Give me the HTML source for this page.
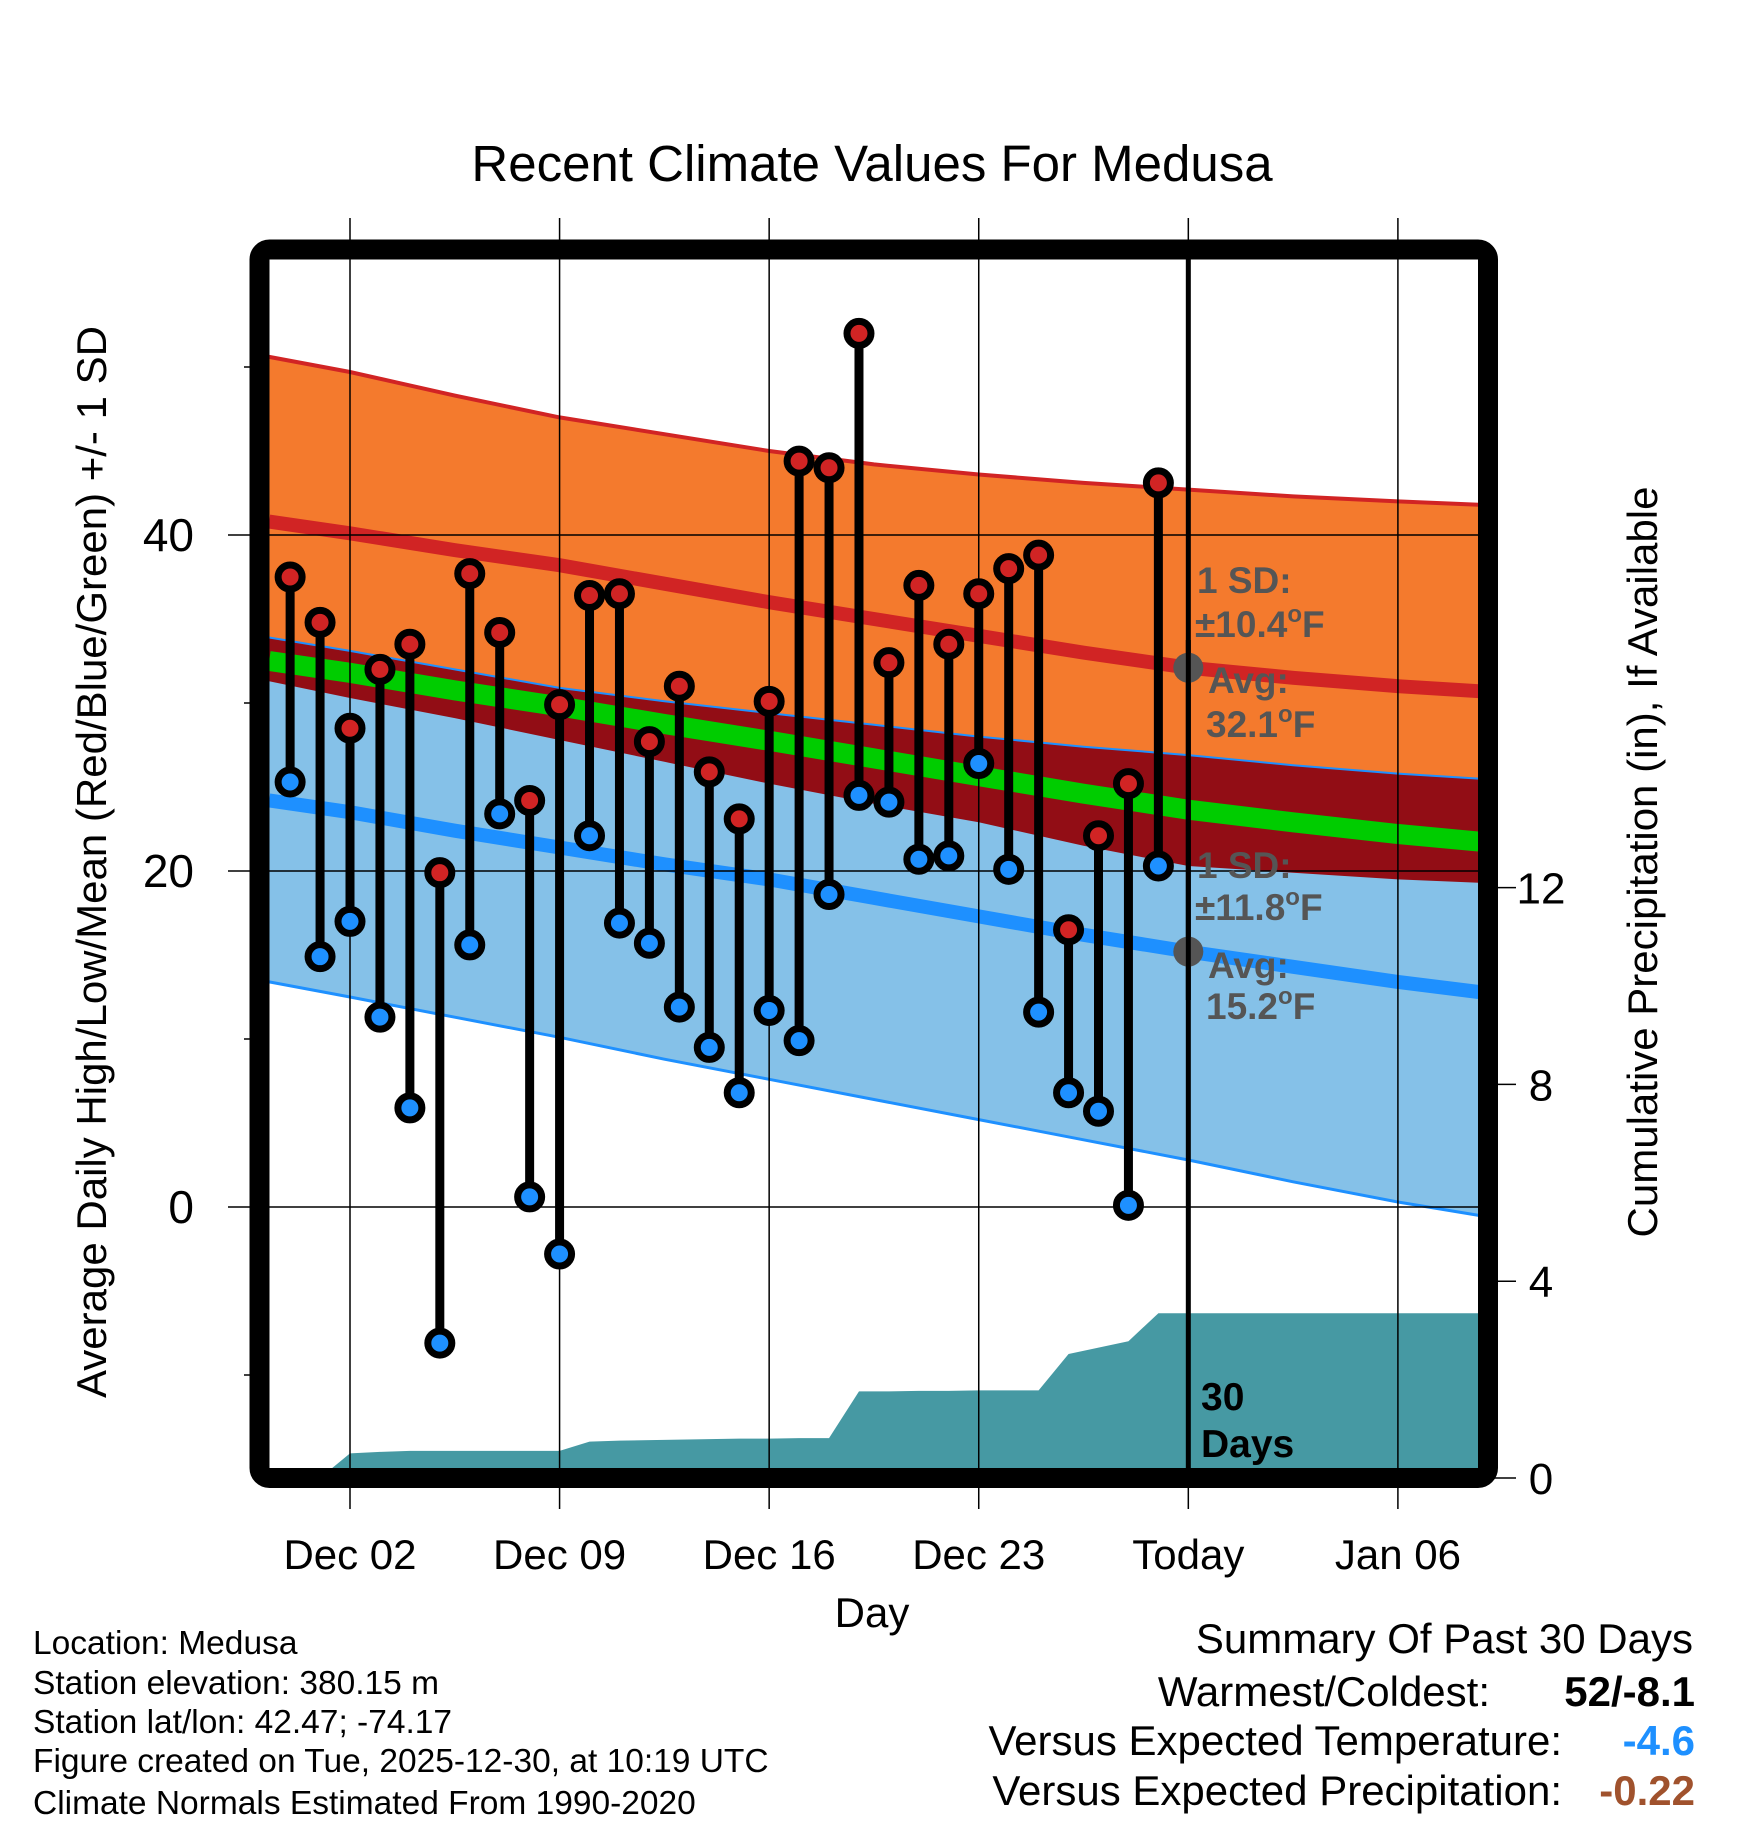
<!DOCTYPE html>
<html><head><meta charset="utf-8"><style>
html,body{margin:0;padding:0;background:#fff}
svg{display:block;font-family:"Liberation Sans",sans-serif}
</style></head><body>
<svg id="chart" width="1748" height="1828" viewBox="0 0 1748 1828" xmlns="http://www.w3.org/2000/svg">
<defs><clipPath id="plotclip"><rect x="268" y="258" width="1212" height="1212"/></clipPath></defs>
<g id="bands" clip-path="url(#plotclip)"></g>
<g id="grid"></g>
<g id="marks"></g>
<rect x="259.5" y="249.5" width="1228.5" height="1228.5" rx="10" fill="none" stroke="#000" stroke-width="20"/>
<g id="labels"></g>
<text x="872" y="181" font-size="51" text-anchor="middle">Recent Climate Values For Medusa</text>
<text transform="translate(106,862) rotate(-90)" font-size="42" text-anchor="middle">Average Daily High/Low/Mean (Red/Blue/Green) +/- 1 SD</text>
<text transform="translate(1657,862) rotate(-90)" font-size="42" text-anchor="middle">Cumulative Precipitation (in), If Available</text>
<text x="872" y="1627" font-size="42" text-anchor="middle">Day</text>
<g font-size="33.5">
<text x="33" y="1654">Location: Medusa</text>
<text x="33" y="1694">Station elevation: 380.15 m</text>
<text x="33" y="1733">Station lat/lon: 42.47; -74.17</text>
<text x="33" y="1772">Figure created on Tue, 2025-12-30, at 10:19 UTC</text>
<text x="33" y="1814">Climate Normals Estimated From 1990-2020</text>
</g>
<g font-size="42">
<text x="1693" y="1653" text-anchor="end">Summary Of Past 30 Days</text>
<text x="1490" y="1706" text-anchor="end">Warmest/Coldest:</text>
<text x="1695" y="1706" text-anchor="end" font-weight="bold">52/-8.1</text>
<text x="1562" y="1755" text-anchor="end">Versus Expected Temperature:</text>
<text x="1695" y="1755" text-anchor="end" font-weight="bold" fill="#1E90FF">-4.6</text>
<text x="1562" y="1805" text-anchor="end">Versus Expected Precipitation:</text>
<text x="1695" y="1805" text-anchor="end" font-weight="bold" fill="#A0522D">-0.22</text>
</g>
<g font-size="37" font-weight="bold" fill="#555">
<text x="1197" y="593">1 SD:</text>
<text x="1195" y="637">±10.4<tspan font-size="24" dy="-15">o</tspan><tspan dy="15">F</tspan></text>
<text x="1208" y="693">Avg:</text>
<text x="1206" y="737">32.1<tspan font-size="24" dy="-15">o</tspan><tspan dy="15">F</tspan></text>
<text x="1197" y="878">1 SD:</text>
<text x="1195" y="920">±11.8<tspan font-size="24" dy="-15">o</tspan><tspan dy="15">F</tspan></text>
<text x="1208" y="978">Avg:</text>
<text x="1206" y="1019">15.2<tspan font-size="24" dy="-15">o</tspan><tspan dy="15">F</tspan></text>
</g>
<g font-size="39" font-weight="bold">
<text x="1201" y="1410">30</text><text x="1201" y="1457">Days</text>
</g>
<script>
// observations Nov 30 .. Dec 29 (day offsets relative to Dec 02)
const obsDays = [-2,-1,0,1,2,3,4,5,6,7,8,9,10,11,12,13,14,15,16,17,18,19,20,21,22,23,24,25,26,27];
const highs = [37.5,34.8,28.5,32.0,33.5,19.9,37.7,34.2,24.2,29.9,36.4,36.5,27.7,31.0,25.9,23.1,30.1,44.4,44.0,52.0,32.4,37.0,33.5,36.5,38.0,38.8,16.5,22.1,25.2,43.1];
const lows = [25.3,14.9,17.0,11.3,5.9,-8.1,15.6,23.4,0.6,-2.8,22.1,16.9,15.7,11.9,9.5,6.8,11.7,9.9,18.6,24.5,24.1,20.7,20.9,26.4,20.1,11.6,6.8,5.7,0.1,20.3];
const precip = [0,0,0.50,0.53,0.55,0.55,0.55,0.55,0.55,0.55,0.74,0.76,0.77,0.78,0.79,0.80,0.80,0.81,0.81,1.76,1.76,1.77,1.77,1.78,1.78,1.78,2.52,2.65,2.78,3.35];
// normals knots
const normDays = [-2.7,0,3.5,7,10.5,14,17.5,21,24.5,28,31.5,35,37.7];
const hiUpper = [50.6,49.7,48.3,47.0,46.0,45.0,44.2,43.6,43.1,42.7,42.3,42.0,41.8];
const hiMean = [40.8,40.1,39.1,38.2,37.1,36.0,35.0,34.0,33.0,32.1,31.5,31.0,30.7];
const hiLower = [31.3,30.3,29.1,27.8,26.5,25.2,24.0,22.9,21.5,20.3,19.9,19.5,19.3];
const loUpper = [33.9,33.1,32.0,30.9,30.1,29.4,28.7,28.0,27.4,26.9,26.3,25.8,25.5];
const loMean = [24.2,23.5,22.4,21.4,20.4,19.5,18.4,17.3,16.2,15.2,14.3,13.4,12.8];
const loLower = [13.4,12.5,11.3,10.1,8.8,7.6,6.4,5.2,4.0,2.8,1.5,0.3,-0.5];
const xTickDays = [0,7,14,21,28,35];
const xTickLabels = ["Dec 02","Dec 09","Dec 16","Dec 23","Today","Jan 06"];
const yTicks = [0,20,40];
const yMinor = [-10,10,30,50];
const y2Ticks = [0,4,8,12];
const todayDay = 28;

const NS="http://www.w3.org/2000/svg";
const X = d => 350 + d*29.94;
const Y = v => 1207 - v*16.8;
const Y2 = p => 1478 - p*49.2;
function mk(parent, tag, attrs){const e=document.createElementNS(NS,tag);for(const k in attrs)e.setAttribute(k,attrs[k]);document.getElementById(parent).appendChild(e);return e;}
const pts = arr => normDays.map((d,i)=>X(d)+","+Y(arr[i]).toFixed(1));
const mid = normDays.map((d,i)=>(hiMean[i]+loMean[i])/2);

let e;
e = mk('bands','polygon',{points:pts(hiUpper).concat(pts(hiLower).reverse()).join(' '),fill:'#F47A2D'});


e = mk('bands','polygon',{points:pts(loUpper).concat(pts(loLower).reverse()).join(' '),fill:'#85C1E8'});


e = mk('bands','polygon',{points:pts(loUpper).concat(pts(hiLower).reverse()).join(' '),fill:'#920D15'});


e = mk('bands','polyline',{points:pts(loUpper).join(' '),fill:'none',stroke:'#1E90FF','stroke-width':2});


e = mk('bands','polyline',{points:pts(mid).join(' '),fill:'none',stroke:'#00CC00','stroke-width':20});


e = mk('bands','polyline',{points:pts(hiUpper).join(' '),fill:'none',stroke:'#D12424','stroke-width':4});


e = mk('bands','polyline',{points:pts(hiMean).join(' '),fill:'none',stroke:'#D12424','stroke-width':14});


e = mk('bands','polyline',{points:pts(loLower).join(' '),fill:'none',stroke:'#1E90FF','stroke-width':3});


e = mk('bands','polyline',{points:pts(loMean).join(' '),fill:'none',stroke:'#1E90FF','stroke-width':14});


// precip area
let pp = obsDays.map((d,i)=>X(d)+","+Y2(precip[i]).toFixed(1));
pp.push(X(38)+","+Y2(precip[precip.length-1]).toFixed(1));
pp.push(X(38)+","+Y2(-1)); pp.push(X(obsDays[0])+","+Y2(-1));
e = mk('bands','polygon',{points:pp.join(' '),fill:'#4699A3'});



// grid
xTickDays.forEach((d,i)=>{
  const g = mk('grid','line',{x1:X(d),x2:X(d),y1:218,y2:1509,stroke:'#000','stroke-width':1.5});
  
  
  const t = mk('labels','text',{x:X(d),y:1569,'font-size':42,'text-anchor':'middle'});
  t.textContent = xTickLabels[i];
  
  
});
yTicks.forEach(v=>{
  const g = mk('grid','line',{x1:228,x2:1480,y1:Y(v),y2:Y(v),stroke:'#000','stroke-width':1.5});
  
  
  const t = mk('labels','text',{x:194,y:Y(v)+16,'font-size':46,'text-anchor':'end'});
  t.textContent = v;
  
  
});
yMinor.forEach(v=>{
  const g = mk('grid','line',{x1:244,x2:262,y1:Y(v),y2:Y(v),stroke:'#000','stroke-width':1.5});
  
  
});
y2Ticks.forEach(v=>{
  const g = mk('grid','line',{x1:1488,x2:1516,y1:Y2(v),y2:Y2(v),stroke:'#000','stroke-width':1.5});
  
  
  const t = mk('labels','text',{x:1541,y:Y2(v)+16,'font-size':44,'text-anchor':'middle'});
  t.textContent = v;
  
  
});
e = mk('grid','line',{x1:X(todayDay),x2:X(todayDay),y1:255,y2:1470,stroke:'#000','stroke-width':5});



// observations
obsDays.forEach((d,i)=>{
  const s = mk('marks','line',{x1:X(d),x2:X(d),y1:Y(highs[i]),y2:Y(lows[i]),stroke:'#000','stroke-width':9});
  
  
  const h = mk('marks','circle',{cx:X(d),cy:Y(highs[i]),r:12,fill:'#D12424',stroke:'#000','stroke-width':7});
  
  
  const l = mk('marks','circle',{cx:X(d),cy:Y(lows[i]),r:12,fill:'#1E90FF',stroke:'#000','stroke-width':7});
  
  
});
e = mk('marks','circle',{cx:X(todayDay),cy:Y(hiMean[9]),r:15,fill:'#555'});


e = mk('marks','circle',{cx:X(todayDay),cy:Y(loMean[9]),r:15,fill:'#555'});


e = mk('marks','line',{x1:X(todayDay),x2:X(todayDay),y1:640,y2:1000,stroke:'#000','stroke-width':5});


</script>
</svg>
</body></html>
